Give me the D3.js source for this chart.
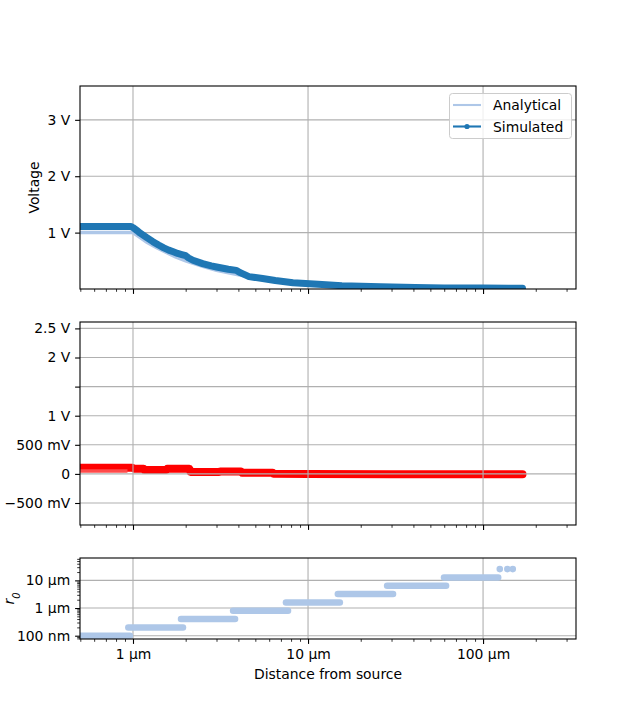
<!DOCTYPE html>
<html><head><meta charset="utf-8">
<script src="https://cdn.jsdelivr.net/npm/d3@7"></script>
<style>body{margin:0;background:#fff}svg{display:block;font-family:"DejaVu Sans",sans-serif}</style>
</head><body><svg id="c" width="640" height="718"></svg>
<script>
// ---------- data (x in µm) ----------
const xTickValues = [1, 10, 100];
const xTickLabels = ["1 µm", "10 µm", "100 µm"];
const xMinorTicks = [0.5,0.6,0.7,0.8,0.9,2,3,4,5,6,7,8,9,20,30,40,50,60,70,80,90,200,300];

// Top panel: voltage
const analyticalX = [0.45, 1.0, 1.1, 1.2, 1.35, 1.5, 1.75, 2.0, 2.5, 3.0, 4.0, 5.0, 7.0, 10, 15, 20, 30, 50, 100, 170];
const analyticalV = [1.0, 1.0, 0.91, 0.83, 0.74, 0.67, 0.57, 0.5, 0.4, 0.33, 0.25, 0.2, 0.14, 0.1, 0.067, 0.05, 0.033, 0.02, 0.01, 0.006];
const simulatedX = [0.45, 0.97, 1.0, 1.05, 1.1, 1.2, 1.3, 1.4, 1.5, 1.6, 1.7, 1.8, 1.9, 2.0, 2.08, 2.2, 2.5, 2.8, 3.0, 3.5, 3.9, 4.1, 4.6, 5.5, 6.5, 8.2, 11.4, 15.6, 26, 41, 60, 100, 140, 158, 168];
const simulatedV = [1.11, 1.11, 1.09, 1.04, 0.99, 0.91, 0.84, 0.78, 0.73, 0.69, 0.66, 0.63, 0.61, 0.59, 0.55, 0.51, 0.45, 0.41, 0.39, 0.35, 0.33, 0.29, 0.22, 0.185, 0.15, 0.11, 0.085, 0.058, 0.038, 0.025, 0.018, 0.016, 0.015, 0.014, 0.012];
const vTickValues = [1, 2, 3];
const vTickLabels = ["1 V", "2 V", "3 V"];

// Middle panel: difference
const errX = [0.45, 0.99, 1.02, 1.15, 1.16, 1.55, 1.57, 2.1, 2.13, 3.1, 3.15, 4.15, 4.2, 6.3, 6.35, 10, 30, 100, 158, 168];
const errV = [0.104, 0.104, 0.09, 0.09, 0.068, 0.068, 0.088, 0.088, 0.034, 0.034, 0.04, 0.04, 0.02, 0.02, 0.003, 0.0, -0.004, -0.005, -0.005, -0.005];
const errLightX = [0.45, 0.93];
const errLightV = [0.05, 0.05];
const eTickValues = [-0.5, 0, 0.5, 1, 1.5, 2, 2.5];
const eTickLabels = ["\u2212500 mV", "0", "500 mV", "1 V", "", "2 V", "2.5 V"];

// Bottom panel: r0 (µm)
const stepStart = [0.45, 0.94, 1.88, 3.73, 7.48, 14.8, 28.3, 59.8];
const stepEnd   = [0.96, 1.93, 3.83, 7.69, 15.2, 30.6, 61.5, 122];
const stepR0    = [0.1, 0.2, 0.4, 0.8, 1.6, 3.2, 6.4, 12.8];
const lastDotsX = [124.6, 137.6, 147.8];
const lastDotsR0 = [25.6, 25.6, 25.6];
const rTickValues = [0.1, 1, 10];
const rTickLabels = ["100 nm", "1 µm", "10 µm"];
const rMinorTicks = [0.08,0.09,0.2,0.3,0.4,0.5,0.6,0.7,0.8,0.9,2,3,4,5,6,7,8,9,20,30,40,50,60];

// ---------- layout ----------
const L = 80, R = 576;
const P1 = {t: 86, b: 289}, P2 = {t: 322, b: 525}, P3 = {t: 558, b: 639};
const FS = "13.9px";
const GRID = "#b0b0b0";
const svg = d3.select("#c");

const x = d3.scaleLog().domain([0.498, 339.6]).range([L, R]);
const yV = d3.scaleLinear().domain([0, 3.6]).range([P1.b, P1.t]);
const yE = d3.scaleLinear().domain([-0.878, 2.61]).range([P2.b, P2.t]);
const yR = d3.scaleLog().domain([0.076, 64.4]).range([P3.b, P3.t]);

function clip(id, P) {
  svg.append("clipPath").attr("id", id).append("rect")
    .attr("x", L).attr("y", P.t).attr("width", R - L).attr("height", P.b - P.t);
}
clip("c1", P1); clip("c2", P2); clip("c3", P3);

function grid(P, y, yVals) {
  const g = svg.append("g").attr("stroke", GRID).attr("stroke-width", 1.1);
  xTickValues.forEach(v => g.append("line").attr("x1", x(v)).attr("x2", x(v)).attr("y1", P.t).attr("y2", P.b));
  yVals.forEach(v => g.append("line").attr("x1", L).attr("x2", R).attr("y1", y(v)).attr("y2", y(v)));
}

function axes(P, y, yVals, yLabels, yMinor, showX) {
  const gx = svg.append("g").attr("transform", `translate(0,${P.b})`)
    .call(d3.axisBottom(x).tickValues(xTickValues).tickSize(4.9).tickPadding(4.9)
      .tickFormat((d, i) => showX ? xTickLabels[i] : ""));
  const gxm = svg.append("g").attr("transform", `translate(0,${P.b})`)
    .call(d3.axisBottom(x).tickValues(xMinorTicks).tickSize(2.8).tickFormat(""));
  const gy = svg.append("g").attr("transform", `translate(${L},0)`)
    .call(d3.axisLeft(y).tickValues(yVals).tickSize(4.9).tickPadding(4.9)
      .tickFormat((d, i) => yLabels[i]));
  [gx, gxm, gy].forEach(g => {
    g.select(".domain").remove();
    g.selectAll("line").attr("stroke", "#000").attr("stroke-width", 1.1);
    g.selectAll("text").attr("font-size", FS).attr("fill", "#000").attr("font-family", "DejaVu Sans");
  });
  if (yMinor) {
    const gym = svg.append("g").attr("transform", `translate(${L},0)`)
      .call(d3.axisLeft(y).tickValues(yMinor).tickSize(2.8).tickFormat(""));
    gym.select(".domain").remove();
    gym.selectAll("line").attr("stroke", "#000").attr("stroke-width", 0.8);
  }
  gxm.selectAll("line").attr("stroke-width", 0.8);
  svg.append("rect").attr("x", L).attr("y", P.t).attr("width", R - L).attr("height", P.b - P.t)
    .attr("fill", "none").attr("stroke", "#000").attr("stroke-width", 1.1);
}

// ---------- Top panel ----------
grid(P1, yV, vTickValues);
const line1 = d3.line().x(d => x(d[0])).y(d => yV(d[1]));
svg.append("path").attr("clip-path", "url(#c1)")
  .attr("d", line1(analyticalX.map((v, i) => [v, analyticalV[i]])))
  .attr("fill", "none").attr("stroke", "#aec7e8").attr("stroke-width", 3.5);
svg.append("path").attr("clip-path", "url(#c1)")
  .attr("d", line1(simulatedX.map((v, i) => [v, simulatedV[i]])))
  .attr("fill", "none").attr("stroke", "#1f77b4").attr("stroke-width", 7)
  .attr("stroke-linejoin", "round").attr("stroke-linecap", "round");
axes(P1, yV, vTickValues, vTickLabels, null, false);

// legend
const lg = svg.append("g");
lg.append("rect").attr("x", 449.5).attr("y", 93.5).attr("width", 122).attr("height", 45)
  .attr("rx", 3).attr("fill", "#fff").attr("fill-opacity", 0.8).attr("stroke", "#cccccc").attr("stroke-width", 1);
lg.append("line").attr("x1", 453).attr("x2", 481).attr("y1", 105).attr("y2", 105)
  .attr("stroke", "#aec7e8").attr("stroke-width", 2.1);
lg.append("text").attr("x", 493).attr("y", 110).attr("font-size", FS).text("Analytical");
lg.append("line").attr("x1", 453).attr("x2", 481).attr("y1", 126.5).attr("y2", 126.5)
  .attr("stroke", "#1f77b4").attr("stroke-width", 2.1);
lg.append("circle").attr("cx", 467).attr("cy", 126.5).attr("r", 2.6).attr("fill", "#1f77b4");
lg.append("text").attr("x", 493).attr("y", 131.5).attr("font-size", FS).text("Simulated");

svg.append("text").attr("transform", `translate(39,${(P1.t + P1.b) / 2}) rotate(-90)`)
  .attr("text-anchor", "middle").attr("font-size", FS).text("Voltage");

// ---------- Middle panel ----------
const line2 = d3.line().x(d => x(d[0])).y(d => yE(d[1]));
svg.append("path").attr("clip-path", "url(#c2)")
  .attr("d", line2(errX.map((v, i) => [v, errV[i]])))
  .attr("fill", "none").attr("stroke", "#ff0000").attr("stroke-width", 8)
  .attr("stroke-linejoin", "round").attr("stroke-linecap", "round");
svg.append("path").attr("clip-path", "url(#c2)")
  .attr("d", line2(errLightX.map((v, i) => [v, errLightV[i]])))
  .attr("fill", "none").attr("stroke", "#ff4a4a").attr("stroke-width", 3.5);
grid(P2, yE, eTickValues);
axes(P2, yE, eTickValues, eTickLabels, null, false);

// ---------- Bottom panel ----------
grid(P3, yR, rTickValues);
const gs = svg.append("g").attr("clip-path", "url(#c3)");
stepR0.forEach((r, i) => {
  gs.append("line").attr("x1", x(stepStart[i])).attr("x2", x(stepEnd[i]))
    .attr("y1", yR(r)).attr("y2", yR(r))
    .attr("stroke", "#aec7e8").attr("stroke-width", 6.5).attr("stroke-linecap", "round");
});
lastDotsX.forEach((v, i) => {
  gs.append("circle").attr("cx", x(v)).attr("cy", yR(lastDotsR0[i])).attr("r", 3.3).attr("fill", "#aec7e8");
});
axes(P3, yR, rTickValues, rTickLabels, rMinorTicks, true);

svg.append("text").attr("transform", `translate(14,${(P3.t + P3.b) / 2}) rotate(-90)`)
  .attr("text-anchor", "middle").attr("font-size", FS).attr("font-style", "italic")
  .html('r<tspan baseline-shift="sub" font-size="10px">0</tspan>');

svg.append("text").attr("x", (L + R) / 2).attr("y", 679).attr("text-anchor", "middle")
  .attr("font-size", FS).text("Distance from source");
</script></body></html>
